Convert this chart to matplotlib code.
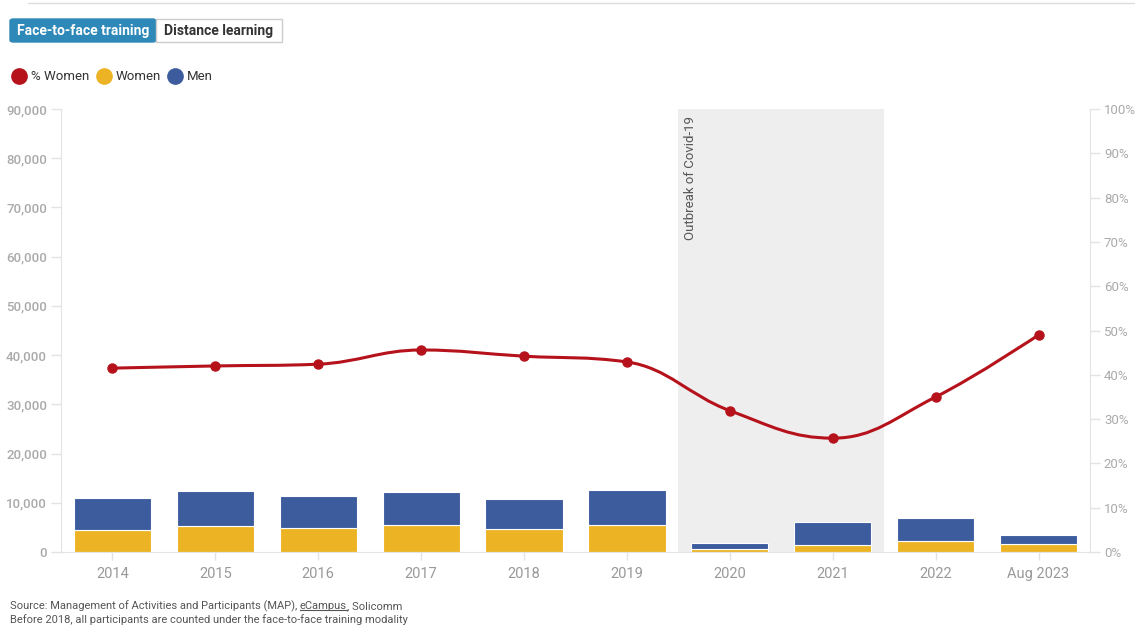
import matplotlib
matplotlib.use("Agg")
import matplotlib.pyplot as plt
from matplotlib.path import Path
from matplotlib.patches import PathPatch, FancyBboxPatch, Rectangle
from matplotlib.lines import Line2D
from matplotlib.ticker import FuncFormatter, MultipleLocator

plt.rcParams['font.family'] = ['Roboto', 'DejaVu Sans']

categories = ["2014", "2015", "2016", "2017", "2018", "2019", "2020", "2021", "2022", "Aug 2023"]
women = [4500, 5300, 4900, 5500, 4700, 5500, 600, 1450, 2250, 1700]
men = [6500, 7150, 6550, 6750, 6100, 7150, 1200, 4550, 4650, 1850]
pct_women = [41.5, 42.0, 42.4, 45.6, 44.2, 42.9, 31.9, 25.7, 35.0, 49.0]

C_WOMEN = "#ecb424"
C_MEN = "#3d5c9e"
C_RED = "#b5121b"
C_TICK = "#999999"
C_AXIS = "#e3e3e3"

W, H = 1135, 627
fig = plt.figure(figsize=(W / 100, H / 100), dpi=100)

def fx(px):
    return px / W

def fy(py):
    return 1 - py / H

left, right, top, bottom = 61, 1090, 109, 552
ax = fig.add_axes([fx(left), fy(bottom), fx(right - left), fy(top) - fy(bottom)])
ax2 = ax.twinx()

x = list(range(len(categories)))
ax.set_xlim(-0.5, len(categories) - 0.5)
ax.set_ylim(0, 90000)
ax2.set_ylim(0, 100)

# Covid band
ax.axvspan(5.5, 7.5, color="#eeeeee", zorder=0, lw=0)
ax.text(5.62, 88500, "Outbreak of Covid-19", rotation=90, ha="center", va="top",
        fontsize=9.5, color="#555555", zorder=1)

bw = 0.75
ax.bar(x, women, width=bw, color=C_WOMEN, edgecolor="white", linewidth=0.8, zorder=2)
ax.bar(x, men, width=bw, bottom=women, color=C_MEN, edgecolor="white", linewidth=0.8, zorder=2)

# Highcharts-style spline
def spline_path(xs, ys, smoothing=1.5):
    n = len(xs)
    denom = smoothing + 1
    lc = [None] * n
    rc = [None] * n
    for i in range(1, n - 1):
        px, py = xs[i], ys[i]
        lx, ly = xs[i - 1], ys[i - 1]
        nx, ny = xs[i + 1], ys[i + 1]
        lcx = (smoothing * px + lx) / denom
        lcy = (smoothing * py + ly) / denom
        rcx = (smoothing * px + nx) / denom
        rcy = (smoothing * py + ny) / denom
        if rcx != lcx:
            corr = ((rcy - lcy) * (rcx - px)) / (rcx - lcx) + py - rcy
            lcy += corr
            rcy += corr
        if lcy > ly and lcy > py:
            lcy = max(ly, py)
            rcy = 2 * py - lcy
        elif lcy < ly and lcy < py:
            lcy = min(ly, py)
            rcy = 2 * py - lcy
        if rcy > ny and rcy > py:
            rcy = max(ny, py)
            lcy = 2 * py - rcy
        elif rcy < ny and rcy < py:
            rcy = min(ny, py)
            lcy = 2 * py - rcy
        lc[i] = (lcx, lcy)
        rc[i] = (rcx, rcy)
    verts = [(xs[0], ys[0])]
    codes = [Path.MOVETO]
    for i in range(1, n):
        c1 = rc[i - 1] if rc[i - 1] else (xs[i - 1], ys[i - 1])
        c2 = lc[i] if lc[i] else (xs[i], ys[i])
        verts += [c1, c2, (xs[i], ys[i])]
        codes += [Path.CURVE4] * 3
    return Path(verts, codes)

ax2.add_patch(PathPatch(spline_path(x, pct_women), fill=False, edgecolor=C_RED, lw=2.2, zorder=3))
ax2.plot(x, pct_women, "o", color=C_RED, markersize=6.5, zorder=4)

# Axes styling
for a in (ax, ax2):
    a.spines["top"].set_visible(False)
    a.spines["left"].set_color(C_AXIS)
    a.spines["right"].set_color(C_AXIS)
    a.spines["bottom"].set_color(C_AXIS)
ax.spines["right"].set_visible(False)
ax2.spines["left"].set_visible(False)
ax2.spines["bottom"].set_visible(False)

ax.set_xticks(x)
ax.set_xticklabels(categories)
ax.tick_params(axis="x", colors=C_AXIS, length=6, width=1, labelcolor=C_TICK, labelsize=10.5, pad=5)
ax.yaxis.set_major_locator(MultipleLocator(10000))
ax.yaxis.set_major_formatter(FuncFormatter(lambda v, p: f"{int(v):,}"))
ax.tick_params(axis="y", colors=C_AXIS, length=7, width=1, labelcolor="#aaaaaa", labelsize=9.5, pad=3)
for lab in ax.get_yticklabels():
    lab.set_fontweight("medium")
ax2.yaxis.set_major_locator(MultipleLocator(10))
ax2.yaxis.set_major_formatter(FuncFormatter(lambda v, p: f"{int(v)}%"))
ax2.tick_params(axis="y", colors=C_AXIS, length=7, width=1, labelcolor="#aaaaaa", labelsize=9.5, pad=3)
ax.set_zorder(0)
ax2.set_zorder(1)
ax2.patch.set_visible(False)

# Top line
fig.add_artist(Line2D([fx(28), fx(1135)], [fy(3), fy(3)], color="#dddddd", lw=1))

# Buttons
fig.add_artist(FancyBboxPatch((fx(10), fy(42)), fx(146), fy(19) - fy(42),
                              boxstyle="round,pad=0,rounding_size=0.003",
                              facecolor="#2e89b8", edgecolor="#2e89b8", lw=1))
fig.add_artist(Rectangle((fx(156), fy(42)), fx(126), fy(19) - fy(42),
                         facecolor="white", edgecolor="#cccccc", lw=1))
fig.text(fx(83), fy(30.5), "Face-to-face training", ha="center", va="center",
         fontsize=10, fontweight="bold", color="white")
fig.text(fx(219), fy(30.5), "Distance learning", ha="center", va="center",
         fontsize=10, fontweight="bold", color="#333333")

# Legend
handles = [Line2D([], [], marker="o", ls="", markersize=11, color=c)
           for c in (C_RED, C_WOMEN, C_MEN)]
fig.legend(handles, ["% Women", "Women", "Men"], loc="center left",
           bbox_to_anchor=(fx(6), fy(77)), ncol=3, frameon=False,
           handletextpad=0.3, columnspacing=0.5, fontsize=9.5,
           labelcolor="#333333", handlelength=1.2, borderaxespad=0)

# Source notes
t1 = fig.text(fx(10), fy(606), "Source: Management of Activities and Participants (MAP), ",
              fontsize=8, color="#555555", va="center")
t2 = fig.text(0, fy(606), "eCampus", fontsize=8, color="#555555", va="center")
t3 = fig.text(0, fy(606), ", Solicomm", fontsize=8, color="#555555", va="center")
fig.text(fx(10), fy(620), "Before 2018, all participants are counted under the face-to-face training modality",
         fontsize=8, color="#555555", va="center")
fig.canvas.draw()
r = fig.canvas.get_renderer()
b1 = t1.get_window_extent(r)
t2.set_x(b1.x1 / W)
fig.canvas.draw()
b2 = t2.get_window_extent(r)
t3.set_x(b2.x1 / W)
fig.add_artist(Line2D([b2.x0 / W, b2.x1 / W], [(b2.y0 + 1.5) / H, (b2.y0 + 1.5) / H],
                      color="#555555", lw=0.8))

fig.savefig("out.png", dpi=100)
